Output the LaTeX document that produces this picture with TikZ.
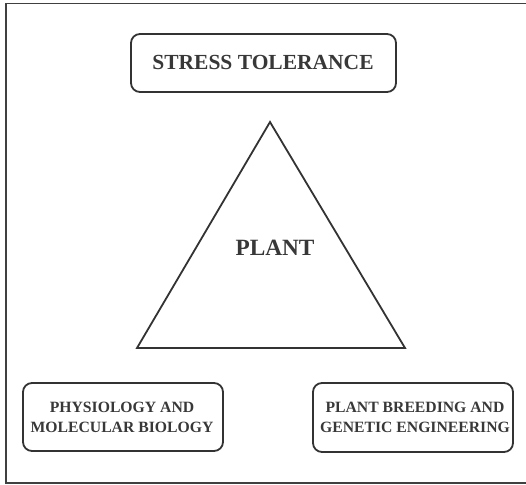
\documentclass[tikz,border=0pt]{standalone}
\usepackage{fontspec}
\setmainfont{Liberation Serif}
\begin{document}
\begin{tikzpicture}[x=1pt,y=-1pt,
  ink/.style={draw=black!80, line width=1.8pt},
  rbox/.style={ink, rounded corners=9pt},
  lbl/.style={text=black!78, font=\bfseries, align=center, inner sep=0pt}]
\useasboundingbox (0,0) rectangle (526,484);
% frame (top, left, bottom; open on the right)
\draw[draw=black!75, line width=1.3pt] (528,3.5) -- (6,3.5) -- (6,483) -- (528,483);
% stress tolerance box
\draw[rbox] (131,34) rectangle (396,92);
\node[lbl, font=\bfseries\fontsize{21.5}{24}\selectfont] (st) at (263,62) {STRESS TOLERANCE};
% triangle
\coordinate (apex) at (270,122);
\coordinate (bl) at (137,348);
\coordinate (br) at (405,348);
\draw[ink, line join=miter] (apex) -- (br) -- (bl) -- cycle;
\node[lbl, font=\bfseries\fontsize{23.3}{26}\selectfont] (plant) at (275,248) {PLANT};
% bottom boxes
\draw[rbox] (23,383) rectangle (223,451);
\node[lbl, font=\bfseries\fontsize{15.7}{20}\selectfont] (phys) at (122,417) {PHYSIOLOGY AND\\MOLECULAR BIOLOGY};
\draw[rbox] (313,383) rectangle (513,452);
\node[lbl, font=\bfseries\fontsize{15.7}{20}\selectfont] (pb) at (415,417) {PLANT BREEDING AND\\GENETIC ENGINEERING};
\end{tikzpicture}
\end{document}
